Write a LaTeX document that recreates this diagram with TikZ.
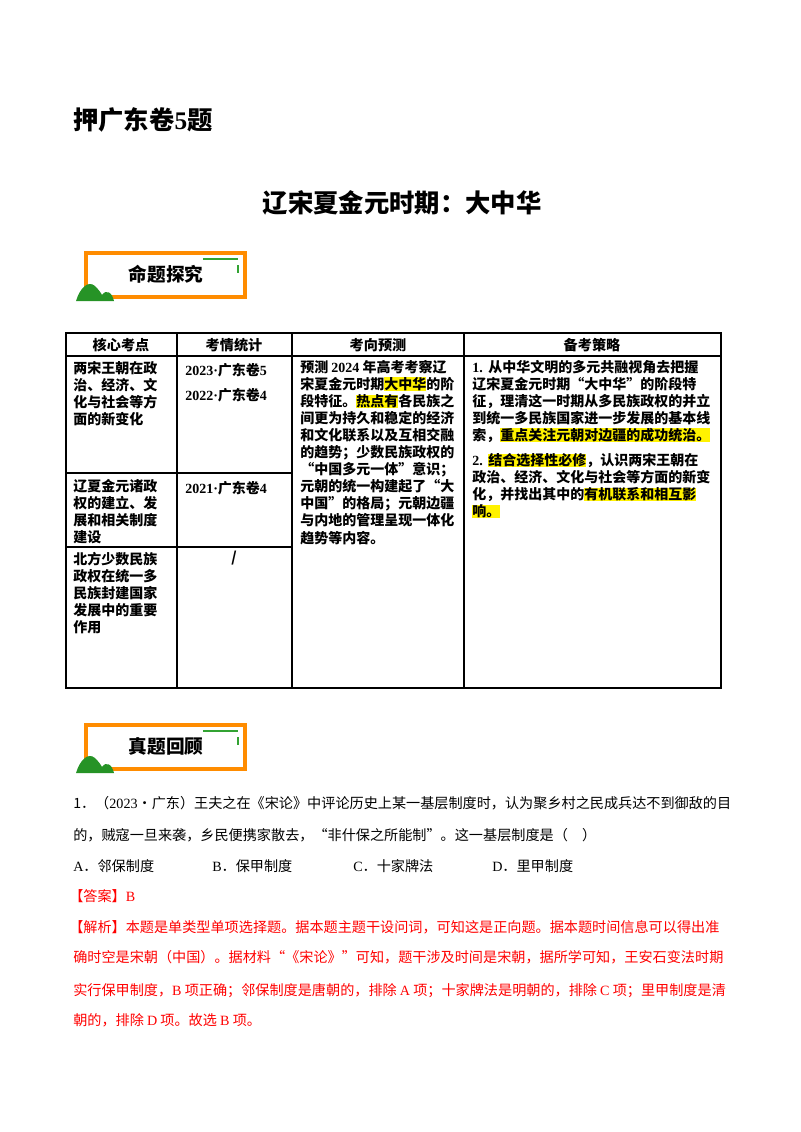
\documentclass[tikz,border=0pt]{standalone}
\usepackage{fontspec}
\setmainfont{Noto Sans CJK SC}
\newfontfamily\tnr{Liberation Serif}
\begin{document}
\begin{tikzpicture}[x=0.75pt,y=-0.75pt,
  tl/.style={anchor=north west,inner sep=0pt,align=left,font=\fontsize{10.5}{12.8}\selectfont\bfseries},
  hd/.style={font=\fontsize{10.6}{13}\selectfont\bfseries,inner sep=0pt},
  body/.style={anchor=base west,inner sep=0pt,font=\fontsize{10.6}{13}\selectfont},
  red/.style={text=red},
  grid/.style={line width=0.8pt}]
\newcommand\hl[1]{{\fboxsep=0pt\colorbox{yellow}{#1}}}
\useasboundingbox (0,0) rectangle (800,1132);
\node[anchor=west,font=\fontsize{19}{22}\selectfont\bfseries,inner sep=0pt] (t1) at (73,120) {押广东卷{\tnr 5}题};
\node[font=\fontsize{19}{22}\selectfont\bfseries,inner sep=0pt] (t2) at (402,203) {辽宋夏金元时期：大中华};
% banners
\foreach \yy/\tt/\nm in {250/命题探究/b1, 722/真题回顾/b2}{
  \draw[orange!90!yellow,line width=2.5pt] (86,\yy+3) rectangle (245,\yy+47);
  \draw[green!55!black!80,line width=1.3pt] (203,\yy+9) -- (238,\yy+9);
  \draw[green!55!black!80,line width=1.3pt] (238,\yy+15) -- (238,\yy+23);
  \fill[green!50!black!85] (76,\yy+51) .. controls (80,\yy+38) and (88,\yy+30) .. (95,\yy+36) .. controls (99,\yy+40) and (101,\yy+43) .. (102,\yy+45) .. controls (106,\yy+39) and (112,\yy+42) .. (114,\yy+51) -- cycle;
  \node[font=\fontsize{14}{16}\selectfont\bfseries,inner sep=0pt] (\nm) at (166,\yy+24) {\tt};
}
% table
\draw[grid] (66,333) rectangle (721,688);
\draw[grid] (66,356) -- (721,356);
\draw[grid] (66,473) -- (292,473);
\draw[grid] (66,547) -- (292,547);
\foreach \x in {177,292,464} \draw[grid] (\x,333) -- (\x,688);
\node[hd] (h1) at (121,345) {核心考点};
\node[hd] (h2) at (234,345) {考情统计};
\node[hd] (h3) at (378,345) {考向预测};
\node[hd] (h4) at (592,345) {备考策略};
\node[tl] (c11) at (73,361) {两宋王朝在政\\治、经济、文\\化与社会等方\\面的新变化};
\node[tl] (c12) at (185,363) {{\tnr 2023·}广东卷{\tnr 5}\\[6pt]{\tnr 2022·}广东卷{\tnr 4}};
\node[tl] (c21) at (73,479) {辽夏金元诸政\\权的建立、发\\展和相关制度\\建设};
\node[tl] (c22) at (185,481) {{\tnr 2021·}广东卷{\tnr 4}};
\node[tl] (c31) at (73,552) {北方少数民族\\政权在统一多\\民族封建国家\\发展中的重要\\作用};
\node[hd] (c32) at (234,558) {/};
\node[tl] (c3) at (300,360) {预测 {\tnr 2024} 年高考考察辽\\宋夏金元时期\hl{大中华}的阶\\段特征。\hl{热点有}各民族之\\间更为持久和稳定的经济\\和文化联系以及互相交融\\的趋势；少数民族政权的\\“中国多元一体”意识；\\元朝的统一构建起了“大\\中国”的格局；元朝边疆\\与内地的管理呈现一体化\\趋势等内容。};
\node[tl] (c4) at (472,360) {{\tnr 1.}\ \,从中华文明的多元共融视角去把握\\辽宋夏金元时期“大中华”的阶段特\\征，理清这一时期从多民族政权的并立\\到统一多民族国家进一步发展的基本线\\索，\hl{重点关注元朝对边疆的成功统治。}\\[6pt]{\tnr 2.}\ \,\hl{结合选择性必修}，认识两宋王朝在\\政治、经济、文化与社会等方面的新变\\化，并找出其中的\hl{有机联系和相互影}\\\hl{响。}};
% question
\node[body] (q1) at (73,808) {1．（{\tnr 2023}·广东）王夫之在《宋论》中评论历史上某一基层制度时，认为聚乡村之民成兵达不到御敌的目};
\node[body] (q2) at (73,840) {的，贼寇一旦来袭，乡民便携家散去，“非什保之所能制”。这一基层制度是（\quad ）};
\node[body] (o1) at (73,871) {{\tnr A}．邻保制度};
\node[body] (o2) at (212,871) {{\tnr B}．保甲制度};
\node[body] (o3) at (353,871) {{\tnr C}．十家牌法};
\node[body] (o4) at (492,871) {{\tnr D}．里甲制度};
\node[body,red] (ans) at (69,901) {【答案】{\tnr B}};
\node[body,red] (e1) at (69,932) {【解析】本题是单类型单项选择题。据本题主题干设问词，可知这是正向题。据本题时间信息可以得出准};
\node[body,red] (e2) at (73,962) {确时空是宋朝（中国）。据材料“《宋论》”可知，题干涉及时间是宋朝，据所学可知，王安石变法时期};
\node[body,red] (e3) at (73,995) {实行保甲制度，{\tnr B} 项正确；邻保制度是唐朝的，排除 {\tnr A} 项；十家牌法是明朝的，排除 {\tnr C} 项；里甲制度是清};
\node[body,red] (e4) at (73,1025) {朝的，排除 {\tnr D} 项。故选 {\tnr B} 项。};
\end{tikzpicture}
\end{document}
